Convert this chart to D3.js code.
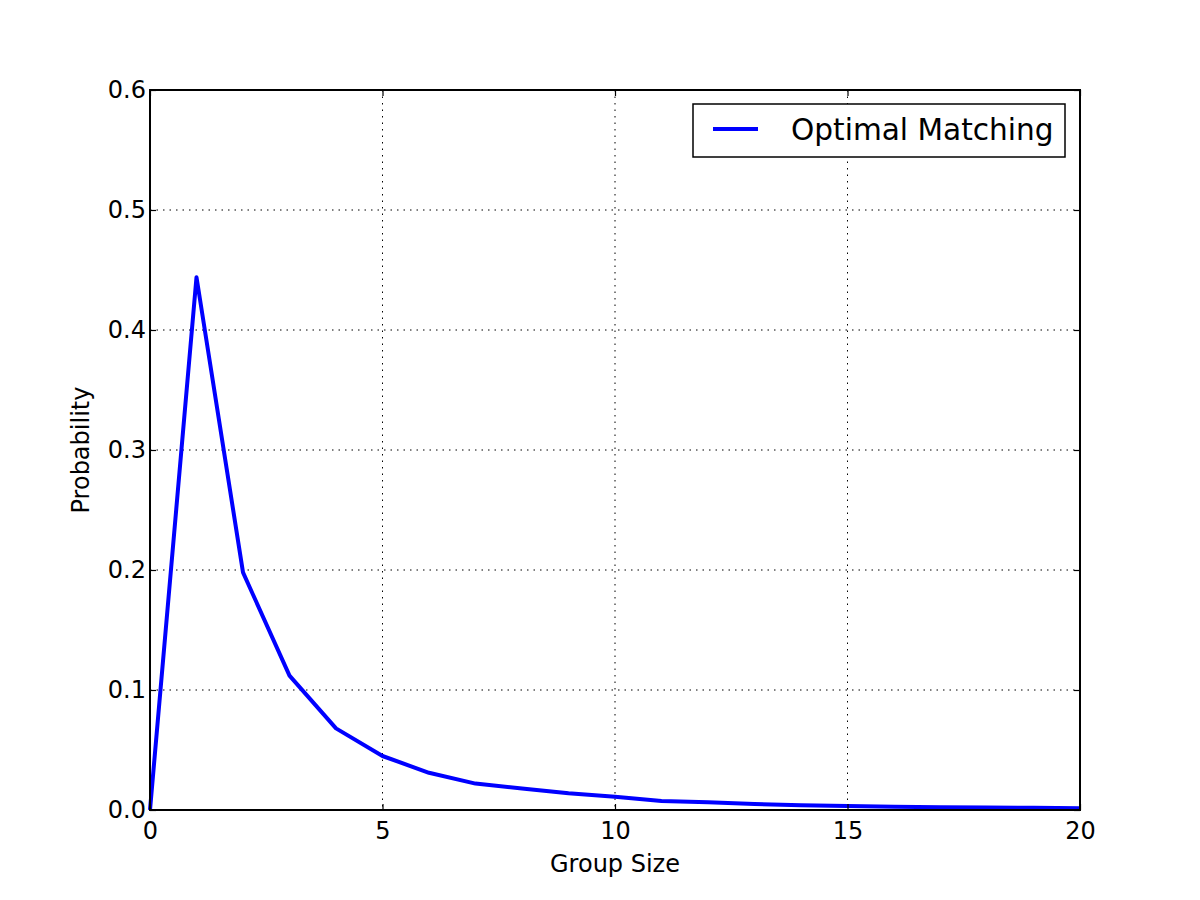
<!DOCTYPE html>
<html><head><meta charset="utf-8">
<script src="https://cdn.jsdelivr.net/npm/d3@7/dist/d3.min.js"></script>
<style>body{margin:0;background:#fff}svg{display:block}text{font-family:"DejaVu Sans",sans-serif}</style>
</head><body>
<script>
const groupSizes = [0,1,2,3,4,5,6,7,8,9,10,11,12,13,14,15,16,17,18,19,20];
const probabilities = [0,0.444,0.198,0.112,0.068,0.045,0.031,0.022,0.018,0.014,0.011,0.0075,0.0065,0.005,0.004,0.0033,0.0028,0.0023,0.002,0.0018,0.0015];
const xTicks = [0,5,10,15,20];
const yTicks = [0.0,0.1,0.2,0.3,0.4,0.5,0.6];
const seriesName = "Optimal Matching";

const W=1200,H=900, L=150,R=1080,T=90,B=810;
const svg=d3.select("body").append("svg").attr("width",W).attr("height",H);
const x=d3.scaleLinear().domain([0,20]).range([L,R]);
const y=d3.scaleLinear().domain([0,0.6]).range([B,T]);

// grid
const g=svg.append("g");
g.selectAll(".gx").data(xTicks).join("line")
 .attr("x1",d=>x(d)).attr("x2",d=>x(d)).attr("y1",T).attr("y2",B)
 .attr("stroke","#000").attr("stroke-width",1).attr("stroke-dasharray","1.5,5");
g.selectAll(".gy").data(yTicks).join("line")
 .attr("y1",d=>y(d)).attr("y2",d=>y(d)).attr("x1",L).attr("x2",R)
 .attr("stroke","#000").attr("stroke-width",1).attr("stroke-dasharray","1.5,5");

// line
svg.append("path").datum(groupSizes.map((d,i)=>[d,probabilities[i]]))
 .attr("d",d3.line().x(d=>x(d[0])).y(d=>y(d[1])))
 .attr("fill","none").attr("stroke","#0000ff").attr("stroke-width",4).attr("stroke-linejoin","round");

// axes (inward ticks on all sides)
const tl=6;
const xb=d3.axisBottom(x).tickValues(xTicks).tickSize(-tl).tickPadding(12).tickFormat(d3.format("d"));
const xt=d3.axisTop(x).tickValues(xTicks).tickSize(-tl).tickFormat("");
const yl=d3.axisLeft(y).tickValues(yTicks).tickSize(-tl).tickPadding(4).tickFormat(d3.format(".1f"));
const yr=d3.axisRight(y).tickValues(yTicks).tickSize(-tl).tickFormat("");
function style(sel){sel.select(".domain").remove();sel.selectAll("line").attr("stroke","#000").attr("stroke-width",1.2);sel.selectAll("text").attr("font-size",24).attr("fill","#000").style("font-family","DejaVu Sans");}
svg.append("g").attr("transform",`translate(0,${B})`).call(xb).call(style);
svg.append("g").attr("transform",`translate(0,${T})`).call(xt).call(style);
svg.append("g").attr("transform",`translate(${L},0)`).call(yl).call(style);
svg.append("g").attr("transform",`translate(${R},0)`).call(yr).call(style);

svg.append("rect").attr("x",L).attr("y",T).attr("width",R-L).attr("height",B-T)
 .attr("fill","none").attr("stroke","#000").attr("stroke-width",2);

// labels
svg.append("text").attr("x",(L+R)/2).attr("y",872).attr("text-anchor","middle").attr("font-size",24).text("Group Size");
svg.append("text").attr("transform",`translate(89,${(T+B)/2}) rotate(-90)`).attr("text-anchor","middle").attr("font-size",24).text("Probability");

// legend
const lg=svg.append("g");
lg.append("rect").attr("x",693).attr("y",104).attr("width",372).attr("height",53).attr("fill","#fff").attr("stroke","#000").attr("stroke-width",1.5);
lg.append("line").attr("x1",713).attr("x2",758).attr("y1",129).attr("y2",129).attr("stroke","#0000ff").attr("stroke-width",4);
lg.append("text").attr("x",791).attr("y",140).attr("font-size",29.6).text(seriesName);
</script>
</body></html>
